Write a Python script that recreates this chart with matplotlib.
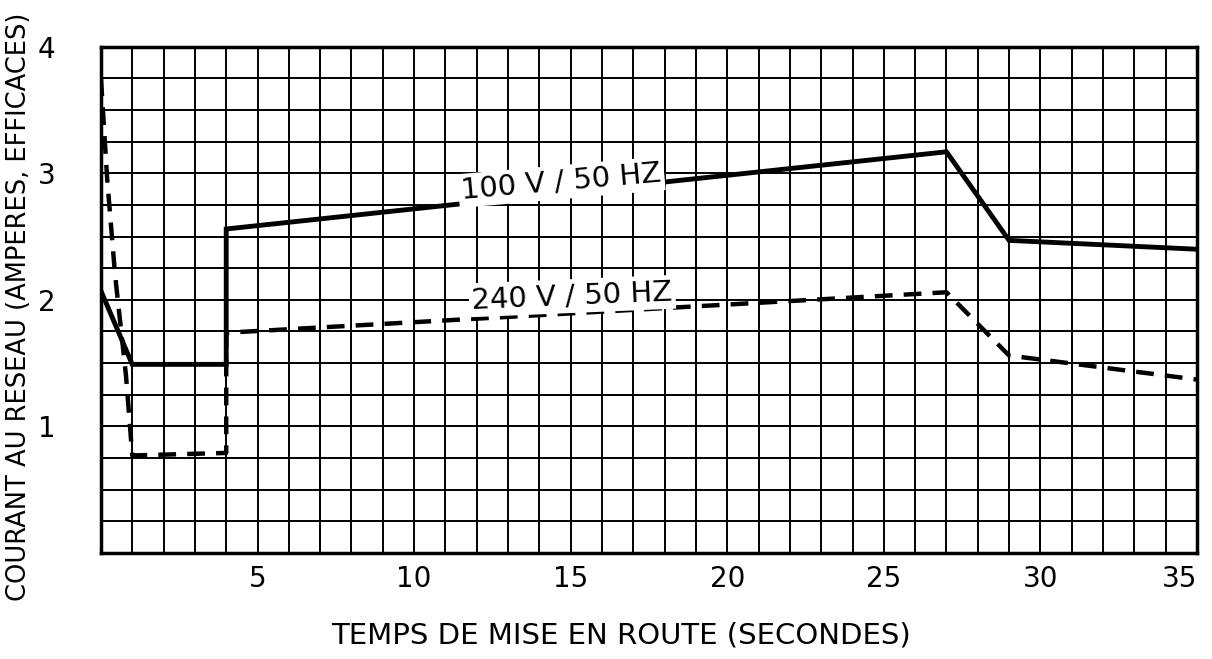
import matplotlib.pyplot as plt
from matplotlib.ticker import MultipleLocator

plt.rcParams['font.family'] = ['DejaVu Sans']

# courant au reseau pendant la mise en route
temps_100v = [0, 1, 4, 4, 27, 29, 35]
courant_100v = [2.07, 1.49, 1.49, 2.56, 3.17, 2.47, 2.40]

temps_240v = [0, 0.2, 0.45, 0.8, 1.0, 4, 4, 27, 29, 35]
courant_240v = [3.75, 2.95, 2.2, 1.4, 0.77, 0.79, 1.74, 2.06, 1.56, 1.37]

x_ticks = [5, 10, 15, 20, 25, 30, 35]
y_ticks = [1, 2, 3, 4]

fig = plt.figure(figsize=(12.12, 6.59), dpi=100)
ax = fig.add_axes([0.0833, 0.161, 0.9043, 0.768])

ax.plot(temps_100v, courant_100v, color='black', linewidth=3.5, solid_joinstyle='miter', zorder=3)
ax.plot(temps_240v, courant_240v, color='black', linewidth=3.2, dashes=(4, 2.5), zorder=3)

ax.set_xlim(0, 35)
ax.set_ylim(0, 4)
ax.xaxis.set_minor_locator(MultipleLocator(1))
ax.yaxis.set_minor_locator(MultipleLocator(0.25))
ax.set_xticks(x_ticks)
ax.set_yticks(y_ticks)
ax.grid(which='both', color='black', linewidth=1.4)
ax.set_axisbelow(True)
ax.tick_params(which='both', length=0)
ax.tick_params(axis='x', labelsize=20, pad=9)
ax.tick_params(axis='y', labelsize=20, pad=33)
ax.get_xticklabels()[-1].set_horizontalalignment('right')
for s in ax.spines.values():
    s.set_linewidth(2.5)

box = dict(facecolor='white', edgecolor='none', pad=2)
ax.text(14.7, 2.93, '100 V / 50 HZ', fontsize=21, rotation=5, ha='center', va='center', bbox=box, zorder=4)
ax.text(15.05, 2.03, '240 V / 50 HZ', fontsize=21, rotation=2.4, ha='center', va='center', bbox=box, zorder=4)

fig.text(0.512, 0.035, 'TEMPS DE MISE EN ROUTE (SECONDES)', fontsize=21, ha='center', va='center')
fig.text(0.0155, 0.535, 'COURANT AU RESEAU (AMPERES, EFFICACES)', fontsize=18.5,
         rotation=90, ha='center', va='center')

fig.savefig('out.png', dpi=100)
